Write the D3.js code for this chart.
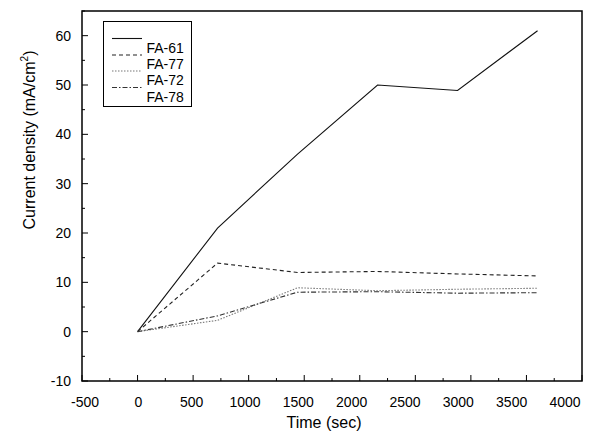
<!DOCTYPE html>
<html>
<head>
<meta charset="utf-8">
<script src="https://cdn.jsdelivr.net/npm/d3@7"></script>
<style>
  body { margin: 0; background: #fff; }
  svg { font-family: "Liberation Sans", Arial, sans-serif; }
</style>
</head>
<body>
<svg id="chart" width="601" height="441"></svg>
<script>
const times = [0, 720, 1440, 2160, 2880, 3600];
const fa61 = [0, 21, 36, 50, 48.9, 61];
const fa77 = [0, 13.9, 12.0, 12.2, 11.7, 11.3];
const fa72 = [0, 2.3, 8.9, 8.3, 8.6, 8.8];
const fa78 = [0, 3.2, 8.0, 8.1, 7.8, 7.9];
const seriesNames = ["FA-61", "FA-77", "FA-72", "FA-78"];
const xTicks = [-500, 0, 500, 1000, 1500, 2000, 2500, 3000, 3500, 4000];
const yTicks = [-10, 0, 10, 20, 30, 40, 50, 60];

const svg = d3.select("#chart");
const plotL = 82, plotR = 582, plotT = 11, plotB = 381;

const x = d3.scaleLinear().domain([-500, 4000]).range([plotL, plotR]);
const y = d3.scaleLinear().domain([-10, 65]).range([plotB, plotT]);
// tick labels in the original sit slightly compressed relative to the ticks
const xLab = d3.scaleLinear().domain([-500, 4000]).range([85, 565]);

const styles = [
  { dash: null, color: "#111" },
  { dash: "4,3", color: "#222" },
  { dash: "1.5,1.5", color: "#777" },
  { dash: "5,2,1.5,2", color: "#333" }
];
const allSeries = [fa61, fa77, fa72, fa78];

// ticks (inward)
const xMinor = d3.range(-500, 4001, 250);
svg.append("g").selectAll("line").data(xMinor).join("line")
  .attr("x1", d => x(d)).attr("x2", d => x(d))
  .attr("y1", plotB).attr("y2", d => plotB - (d % 500 === 0 ? 6 : 3))
  .attr("stroke", "#000").attr("stroke-width", 1);

const yMinor = d3.range(-10, 65.1, 5);
svg.append("g").selectAll("line").data(yMinor).join("line")
  .attr("y1", d => y(d)).attr("y2", d => y(d))
  .attr("x1", plotL).attr("x2", d => plotL + (d % 10 === 0 ? 6 : 3))
  .attr("stroke", "#000").attr("stroke-width", 1);

// frame
svg.append("rect")
  .attr("x", plotL).attr("y", plotT)
  .attr("width", plotR - plotL).attr("height", plotB - plotT)
  .attr("fill", "none").attr("stroke", "#000").attr("stroke-width", 1.5);

// tick labels
svg.append("g").selectAll("text").data(xTicks).join("text")
  .attr("x", d => xLab(d)).attr("y", 407)
  .attr("text-anchor", "middle").attr("font-size", "14px")
  .text(d => d);

svg.append("g").selectAll("text").data(yTicks).join("text")
  .attr("x", 71).attr("y", d => y(d) + 5)
  .attr("text-anchor", "end").attr("font-size", "14px")
  .text(d => d);

// axis titles
svg.append("text").attr("x", 324).attr("y", 428)
  .attr("text-anchor", "middle").attr("font-size", "16px")
  .text("Time (sec)");

const yt = svg.append("text")
  .attr("transform", "translate(35,140) rotate(-90)")
  .attr("text-anchor", "middle").attr("font-size", "16px");
yt.append("tspan").text("Current density (mA/cm");
yt.append("tspan").attr("font-size", "10px").attr("dy", -7).text("2");
yt.append("tspan").attr("dy", 7).text(")");

// lines
const line = d3.line().x((d, i) => x(times[i])).y(d => y(d));
allSeries.forEach((s, i) => {
  svg.append("path").datum(s)
    .attr("fill", "none")
    .attr("stroke", styles[i].color)
    .attr("stroke-width", 1.1)
    .attr("stroke-dasharray", styles[i].dash)
    .attr("d", line);
});

// legend
const lg = svg.append("g");
lg.append("rect").attr("x", 103.5).attr("y", 21.5).attr("width", 88).attr("height", 85)
  .attr("fill", "#fff").attr("stroke", "#000").attr("stroke-width", 1);
const lineYs = [38.5, 55, 71, 87.5];
const textYs = [53, 69, 85, 102];
seriesNames.forEach((n, i) => {
  lg.append("line").attr("x1", 112).attr("x2", 142)
    .attr("y1", lineYs[i]).attr("y2", lineYs[i])
    .attr("stroke", styles[i].color).attr("stroke-width", 1.1)
    .attr("stroke-dasharray", styles[i].dash);
  lg.append("text").attr("x", 146.5).attr("y", textYs[i])
    .attr("font-size", "14px").text(n);
});
</script>
</body>
</html>
